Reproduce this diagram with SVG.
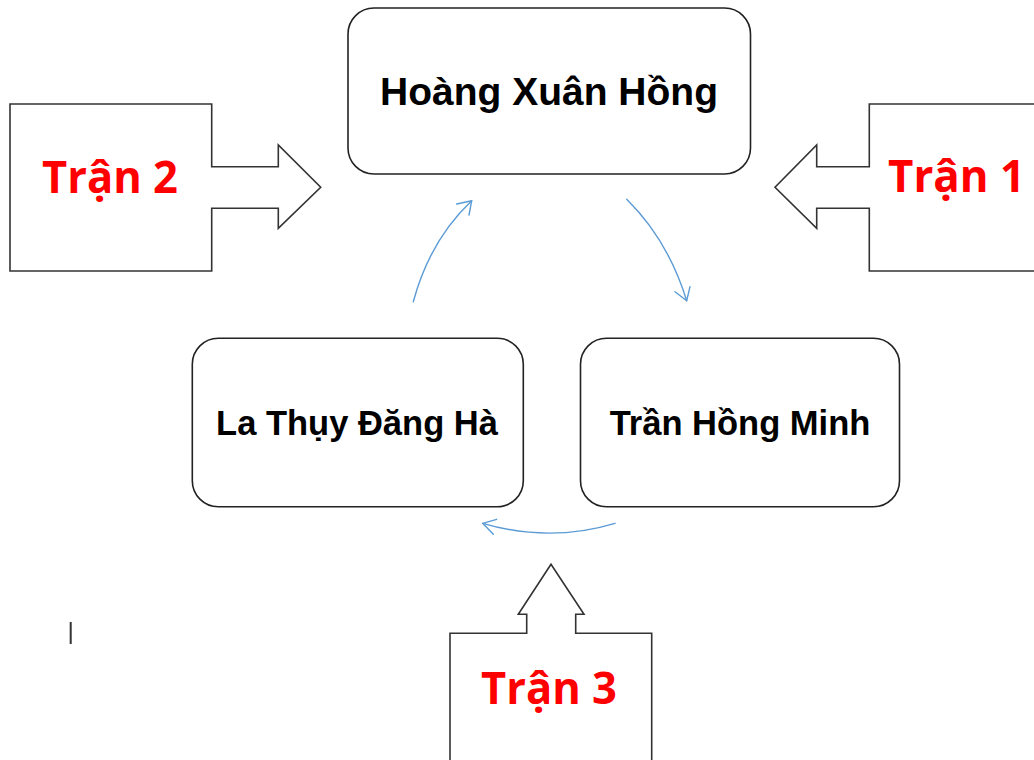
<svg xmlns="http://www.w3.org/2000/svg" width="1034" height="760" viewBox="0 0 1034 760">
<style>
.box{fill:#fff;stroke:#222;stroke-width:1.6}
.big{fill:#fff;stroke:#333;stroke-width:1.6;stroke-linejoin:miter}
.name{font-family:"Liberation Sans",Arial,sans-serif;font-weight:bold;fill:#000}
.red{font-family:"Open Sans","Noto Sans",sans-serif;font-weight:bold;fill:#ff0000;font-size:45px}
.cn{fill:none;stroke:#5b9bd5;stroke-width:1.4;stroke-linecap:round;stroke-linejoin:round}
</style>
<rect width="1034" height="760" fill="#fff"/>
<g id="tran2">
<path class="big" d="M10,104 H211.7 V166.7 H278.3 V145 L320.7,187.3 L278.3,228.3 V208.3 H211.7 V271 H10 Z"/>
<text class="red" x="42" y="193" textLength="136" lengthAdjust="spacingAndGlyphs">Trận 2</text>
</g>
<g id="tran1">
<path class="big" d="M1040,104 H869.3 V166.7 H816.7 V145 L775,187.3 L816.7,228.3 V208.3 H869.3 V271 H1040"/>
<text class="red" x="888" y="192" textLength="137" lengthAdjust="spacingAndGlyphs">Trận 1</text>
</g>
<g id="tran3">
<path class="big" d="M450,766 V633.3 H526.7 V614.3 H518.3 L551,564.3 L584,614.3 H575.7 V633.3 H651.7 V766"/>
<text class="red" x="481" y="704" textLength="136" lengthAdjust="spacingAndGlyphs">Trận 3</text>
</g>
<g id="hoang">
<rect class="box" x="348" y="8" width="402.5" height="166" rx="26"/>
<text class="name" x="549" y="105" font-size="39" text-anchor="middle">Hoàng Xuân Hồng</text>
</g>
<g id="la">
<rect class="box" x="192.3" y="338.3" width="331" height="168.4" rx="26"/>
<text class="name" x="357" y="435" font-size="34.5" text-anchor="middle">La Thụy Đăng Hà</text>
</g>
<g id="tran">
<rect class="box" x="580.5" y="338.3" width="319" height="168.4" rx="26"/>
<text class="name" x="740" y="435" font-size="34.5" text-anchor="middle">Trần Hồng Minh</text>
</g>
<g id="connectors">
<path class="cn" d="M413.3,301.7 Q430,240 471.7,200.7"/>
<path class="cn" d="M456.7,204 L471.7,200.7 L469,215"/>
<path class="cn" d="M626.7,199.3 Q668,240 686.7,300.7"/>
<path class="cn" d="M675,291.7 L686.7,300.7 L690,286.7"/>
<path class="cn" d="M615,523.3 Q550,543 482.7,523.3"/>
<path class="cn" d="M496.7,519.3 L482.7,523.3 L493.3,534.3"/>
</g>
<line x1="70.7" y1="622" x2="70.7" y2="644" stroke="#333" stroke-width="2"/>
</svg>
